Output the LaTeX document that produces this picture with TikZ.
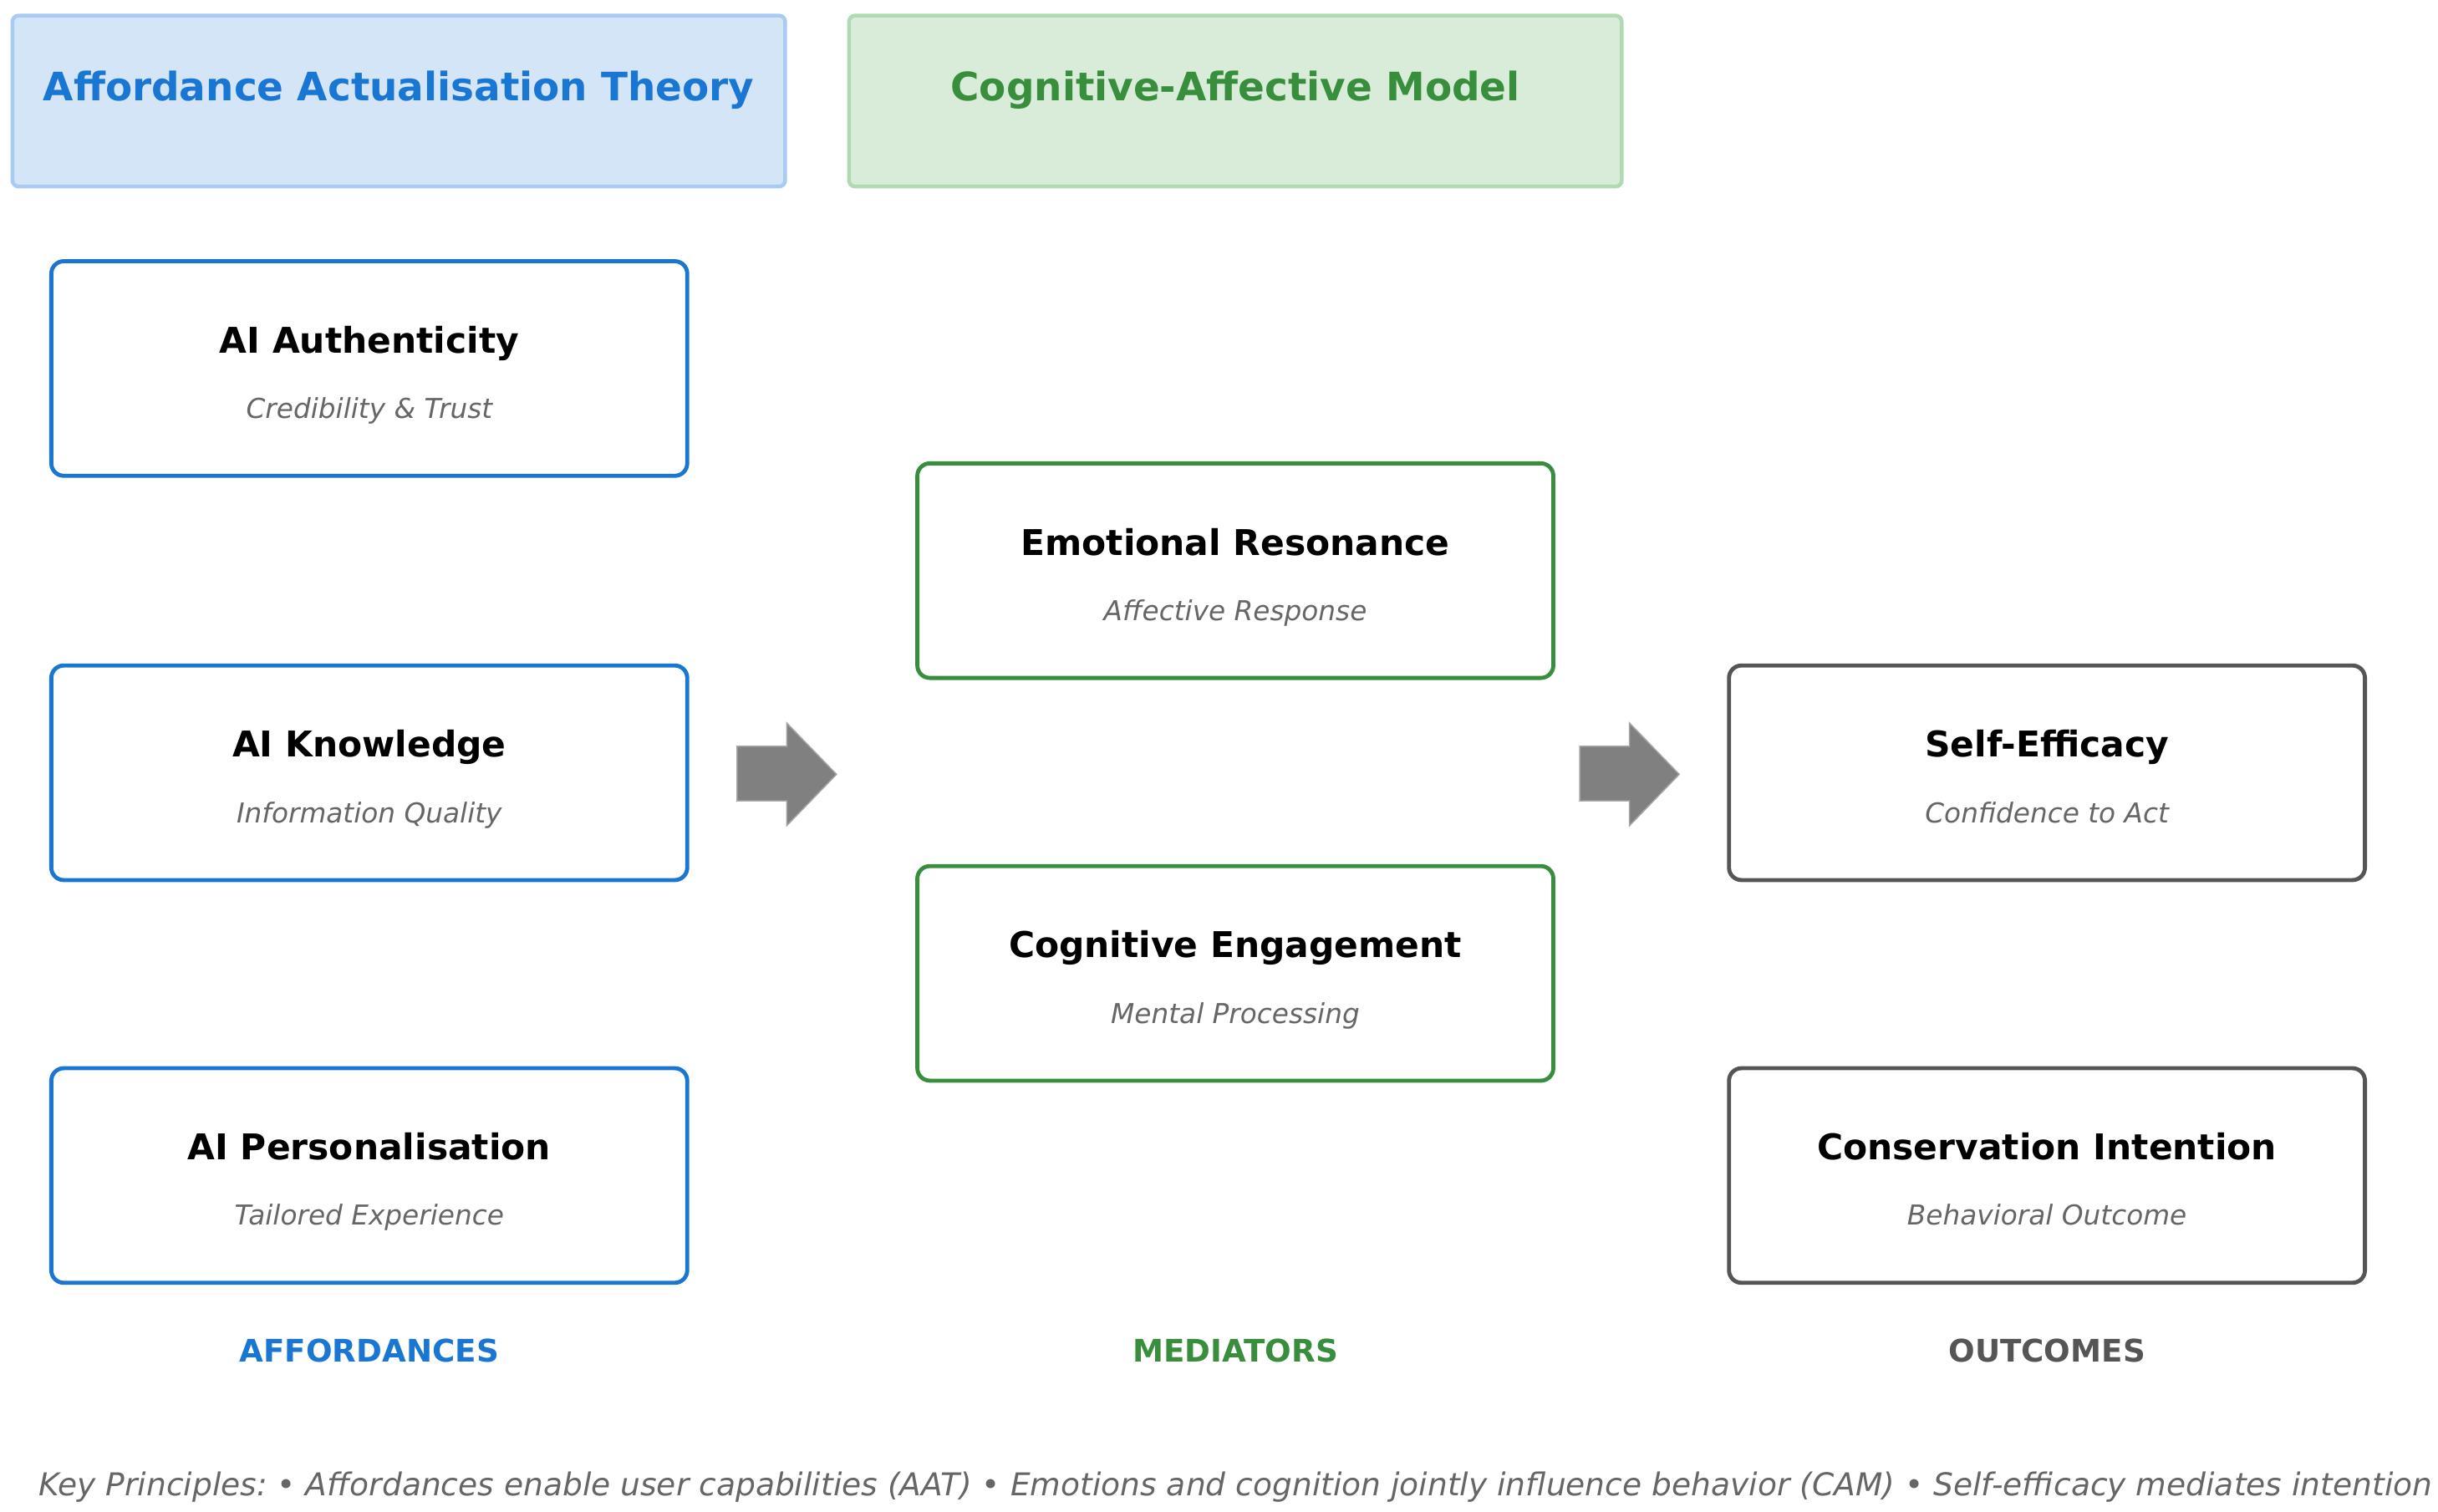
\documentclass[tikz,border=0pt]{standalone}
\usepackage{fontspec}
\setmainfont{DejaVu Sans}
\usepackage{xcolor}
\usetikzlibrary{positioning}
\frenchspacing
\definecolor{affblue}{HTML}{1976D2}
\definecolor{medgreen}{HTML}{388E3C}
\definecolor{outgray}{HTML}{555555}
\definecolor{hdrblue}{HTML}{D4E5F7}
\definecolor{hdrblueline}{HTML}{A9CBF1}
\definecolor{hdrgreen}{HTML}{D9EBD9}
\definecolor{hdrgreenline}{HTML}{B2DAB2}
\definecolor{subgray}{HTML}{666666}
\definecolor{arrowgray}{HTML}{808080}

\tikzset{
    header/.style={draw, line width=1.2pt, rounded corners=2pt, minimum width=248.5pt, minimum height=55pt},
    concept/.style={draw, fill=white, line width=1.3pt, rounded corners=4pt, minimum width=204.5pt, minimum height=69pt},
    hdrtext/.style={anchor=base, font=\fontsize{12.6}{15}\selectfont\bfseries},
    ctitle/.style={anchor=base, font=\fontsize{11.4}{13}\selectfont\bfseries},
    csub/.style={anchor=base, text=subgray, font=\fontsize{8.8}{10}\selectfont\itshape},
    collabel/.style={anchor=base, font=\fontsize{10}{12}\selectfont\bfseries},
    bigarrow/.style={fill=arrowgray, draw=arrowgray!70, line width=0.4pt}
}

\begin{document}
\begin{tikzpicture}[x=0.5pt, y=-0.5pt]
        \useasboundingbox (0,0) rectangle (1568,972);

        % theory headers
        \node[header, draw=hdrblueline, fill=hdrblue] (aat) at (256.5,65) {};
        \node[hdrtext, text=affblue] (aat-t) at (256.5,65) {Affordance Actualisation Theory};
        \node[header, draw=hdrgreenline, fill=hdrgreen] (cam) at (794.5,65) {};
        \node[hdrtext, text=medgreen] (cam-t) at (794.5,65) {Cognitive-Affective Model};

        % affordances
        \node[concept, draw=affblue] (aauth) at (237.5,237) {};
        \node[ctitle] (aauth-t) at ([yshift=5pt]aauth.center) {AI Authenticity};
        \node[csub] (aauth-s) at ([yshift=-16pt]aauth.center) {Credibility \& Trust};

        \node[concept, draw=affblue] (aknow) at (237.5,497) {};
        \node[ctitle] (aknow-t) at ([yshift=5pt]aknow.center) {AI Knowledge};
        \node[csub] (aknow-s) at ([yshift=-16pt]aknow.center) {Information Quality};

        \node[concept, draw=affblue] (apers) at (237.5,756) {};
        \node[ctitle] (apers-t) at ([yshift=5pt]apers.center) {AI Personalisation};
        \node[csub] (apers-s) at ([yshift=-16pt]apers.center) {Tailored Experience};

        % mediators
        \node[concept, draw=medgreen] (emores) at (794.5,367) {};
        \node[ctitle] (emores-t) at ([yshift=5pt]emores.center) {Emotional Resonance};
        \node[csub] (emores-s) at ([yshift=-16pt]emores.center) {Affective Response};

        \node[concept, draw=medgreen] (cogeng) at (794.5,626) {};
        \node[ctitle] (cogeng-t) at ([yshift=5pt]cogeng.center) {Cognitive Engagement};
        \node[csub] (cogeng-s) at ([yshift=-16pt]cogeng.center) {Mental Processing};

        % outcomes
        \node[concept, draw=outgray] (selfeff) at (1316.5,497) {};
        \node[ctitle] (selfeff-t) at ([yshift=5pt]selfeff.center) {Self-Efficacy};
        \node[csub] (selfeff-s) at ([yshift=-16pt]selfeff.center) {Confidence to Act};

        \node[concept, draw=outgray] (consint) at (1316.5,756) {};
        \node[ctitle] (consint-t) at ([yshift=5pt]consint.center) {Conservation Intention};
        \node[csub] (consint-s) at ([yshift=-16pt]consint.center) {Behavioral Outcome};

        % flow arrows
        \foreach \ax in {0,542}
            \filldraw[bigarrow] (474+\ax,480) -- (506+\ax,480) -- (506+\ax,465) -- (538+\ax,498) -- (506+\ax,531) -- (506+\ax,515) -- (474+\ax,515) -- cycle;

        % column labels
        \node[collabel, text=affblue] (lab-aff) at (237.5,876) {AFFORDANCES};
        \node[collabel, text=medgreen] (lab-med) at (794.5,876) {MEDIATORS};
        \node[collabel, text=outgray] (lab-out) at (1316.5,876) {OUTCOMES};

        % key principles
        \node[anchor=base, text=subgray, font=\fontsize{10.1}{12}\selectfont\itshape] (keyp) at (794.5,962) {Key Principles: • Affordances enable user capabilities (AAT) • Emotions and cognition jointly influence behavior (CAM) • Self-efficacy mediates intention};

    \end{tikzpicture}
\end{document}
